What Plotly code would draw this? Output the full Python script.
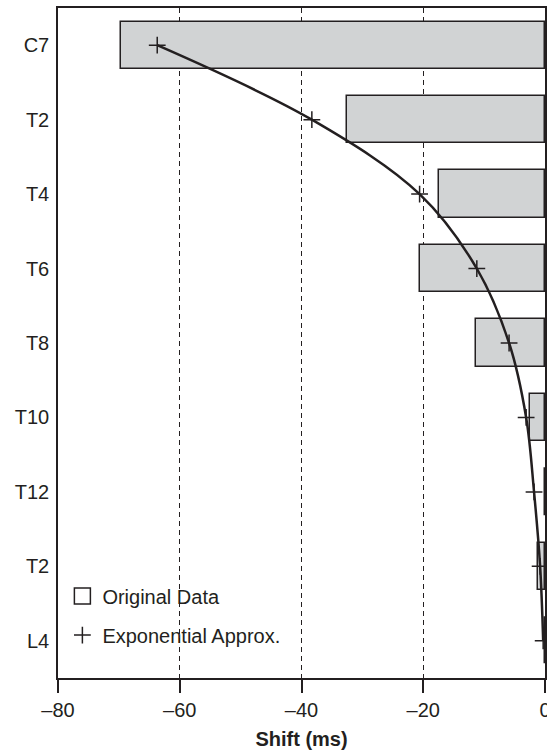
import plotly.graph_objects as go

levels = ["C7", "T2", "T4", "T6", "T8", "T10", "T12", "T2", "L4"]
original_shift = [-69.7, -32.6, -17.4, -20.6, -11.3, -2.5, 0.0, -1.2, 0.0]
approx_shift = [-63.7, -38.3, -20.6, -11.2, -5.9, -3.1, -1.8, -0.8, -0.3]
x_tickvals = [-80, -60, -40, -20, 0]
x_ticktext = ["\u201380", "\u201360", "\u201340", "\u201320", "0"]

pos = list(range(len(levels)))
ink = "#231f20"
FONT = "Liberation Sans, Arial, Helvetica, sans-serif"

fig = go.Figure()
fig.add_trace(go.Bar(
    x=original_shift, y=pos, orientation="h", width=0.636,
    marker=dict(color="#d1d3d4", line=dict(color=ink, width=1.5)),
    showlegend=False, hoverinfo="x",
))
fig.add_trace(go.Scatter(
    x=approx_shift, y=pos, mode="lines", line=dict(color=ink, width=2.5, shape="spline", smoothing=1.0),
    showlegend=False, hoverinfo="skip", cliponaxis=False,
))
fig.add_trace(go.Scatter(
    x=approx_shift, y=pos, mode="markers", cliponaxis=False,
    marker=dict(symbol="cross-thin", size=12, line=dict(color=ink, width=1.5), color=ink),
    name="Exponential Approx.", legendgroup="b", legendrank=2,
))
fig.add_trace(go.Scatter(
    x=[None], y=[None], mode="markers",
    marker=dict(symbol="square-open", size=16, color=ink, line=dict(width=1.5)),
    name="Original Data", legendgroup="a", legendrank=1,
))

fig.update_layout(
    width=547, height=753,
    margin=dict(l=58, r=2, t=8, b=75, autoexpand=False),
    paper_bgcolor="white", plot_bgcolor="white",
    font=dict(family=FONT, size=20, color=ink),
    bargap=0,
    legend=dict(
        x=0.009, y=0.035, xanchor="left", yanchor="bottom",
        bgcolor="rgba(0,0,0,0)", borderwidth=0,
        font=dict(size=20, color=ink),
        traceorder="grouped", tracegroupgap=10,
    ),
    xaxis=dict(
        range=[-80, 0], tickvals=x_tickvals, ticktext=x_ticktext,
        ticks="outside", ticklen=13, tickwidth=1.5, tickcolor=ink,
        showline=True, mirror=True, linecolor=ink, linewidth=1.5,
        showgrid=True, gridcolor=ink, gridwidth=1, griddash="5px,4px",
        zeroline=False, automargin=False, ticklabeloverflow="allow",
        title=dict(text="<b>Shift (ms)</b>", font=dict(size=20, color=ink), standoff=12),
        tickfont=dict(size=20, color=ink),
    ),
    yaxis=dict(
        range=[len(levels) - 0.5, -0.5], tickvals=pos, ticktext=levels,
        ticks="", showline=True, mirror=True, linecolor=ink, linewidth=1.5,
        showgrid=False, zeroline=False, ticklabelstandoff=3, automargin=False,
        tickfont=dict(size=20, color=ink),
    ),
)

fig.write_html("out.html", config={"displayModeBar": False})
with open("out.html", "r", encoding="utf-8") as f:
    html = f.read()
html = html.replace("<head>", "<head><style>html,body{margin:0;padding:0;overflow:hidden;}</style>", 1)
with open("out.html", "w", encoding="utf-8") as f:
    f.write(html)
